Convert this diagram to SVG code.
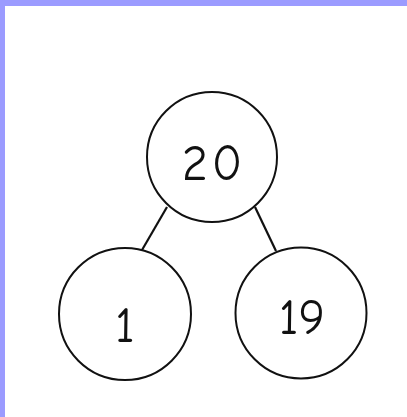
<svg xmlns="http://www.w3.org/2000/svg" width="407" height="417" viewBox="0 0 407 417">
<style>
.node{fill:#fff;stroke:#111;stroke-width:2}
.edge{stroke:#111;stroke-width:2.2;fill:none}
.lbl{font-family:"Comic Neue","Liberation Sans",sans-serif;font-size:50px;fill:#111;text-anchor:middle}
</style>
<rect x="0" y="0" width="407" height="417" fill="#fff"/>
<rect x="0" y="0" width="407" height="6" fill="#9b9bff"/>
<rect x="0" y="0" width="5" height="417" fill="#9b9bff"/>
<g id="connectors">
<line class="edge" x1="167" y1="207" x2="142" y2="250"/>
<line class="edge" x1="255" y1="207" x2="276" y2="251"/>
</g>
<g id="node-20">
<circle class="node" cx="212" cy="157" r="65"/>
<text class="lbl" x="214" y="180" letter-spacing="4">20</text>
</g>
<g id="node-1">
<circle class="node" cx="125" cy="314" r="66"/>
<text class="lbl" x="125" y="342">1</text>
</g>
<g id="node-19">
<circle class="node" cx="301" cy="313" r="65.5"/>
<text class="lbl" x="302" y="334">19</text>
</g>
</svg>
